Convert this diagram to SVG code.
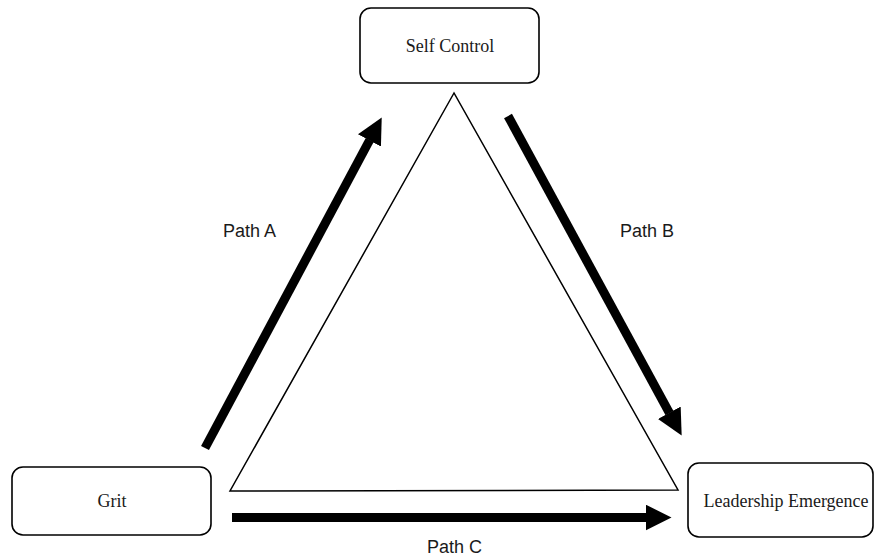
<svg xmlns="http://www.w3.org/2000/svg" width="877" height="556" viewBox="0 0 877 556">
<style>
.box{fill:#fff;stroke:#000;stroke-width:1.6}
.nt{font-family:"Liberation Serif","Times New Roman",serif;font-size:18px;fill:#1a1a1a;text-anchor:middle}
.pl{font-family:"Liberation Sans",Arial,sans-serif;font-size:18px;fill:#1a1a1a}
.arr{stroke:#000;stroke-width:9;fill:none;marker-end:url(#head)}
</style>
<defs>
<marker id="head" viewBox="0 0 26 26" markerWidth="26" markerHeight="26" markerUnits="userSpaceOnUse" refX="0.5" refY="13" orient="auto">
<path d="M0,0 L26,13 L0,26 z" fill="#000"/>
</marker>
</defs>
<rect width="877" height="556" fill="#fff"/>
<polygon points="454,93 230,491 678,490" fill="none" stroke="#000" stroke-width="1.5"/>
<g id="self-control">
<rect class="box" x="360" y="8" width="179" height="75" rx="11"/>
<text class="nt" x="450" y="52">Self Control</text>
</g>
<g id="grit">
<rect class="box" x="12" y="467" width="199" height="68" rx="11"/>
<text class="nt" x="112" y="507">Grit</text>
</g>
<g id="leadership-emergence">
<rect class="box" x="688" y="463" width="185" height="74" rx="11"/>
<text class="nt" x="786" y="507">Leadership Emergence</text>
</g>
<g id="connectors">
<line class="arr" x1="205" y1="448" x2="369.7" y2="140"/>
<line class="arr" x1="508" y1="116" x2="669.5" y2="413.2"/>
<line class="arr" x1="232" y1="517.5" x2="646" y2="517.5"/>
<text class="pl" x="223" y="237">Path A</text>
<text class="pl" x="620" y="237">Path B</text>
<text class="pl" x="427" y="553">Path C</text>
</g>
</svg>
